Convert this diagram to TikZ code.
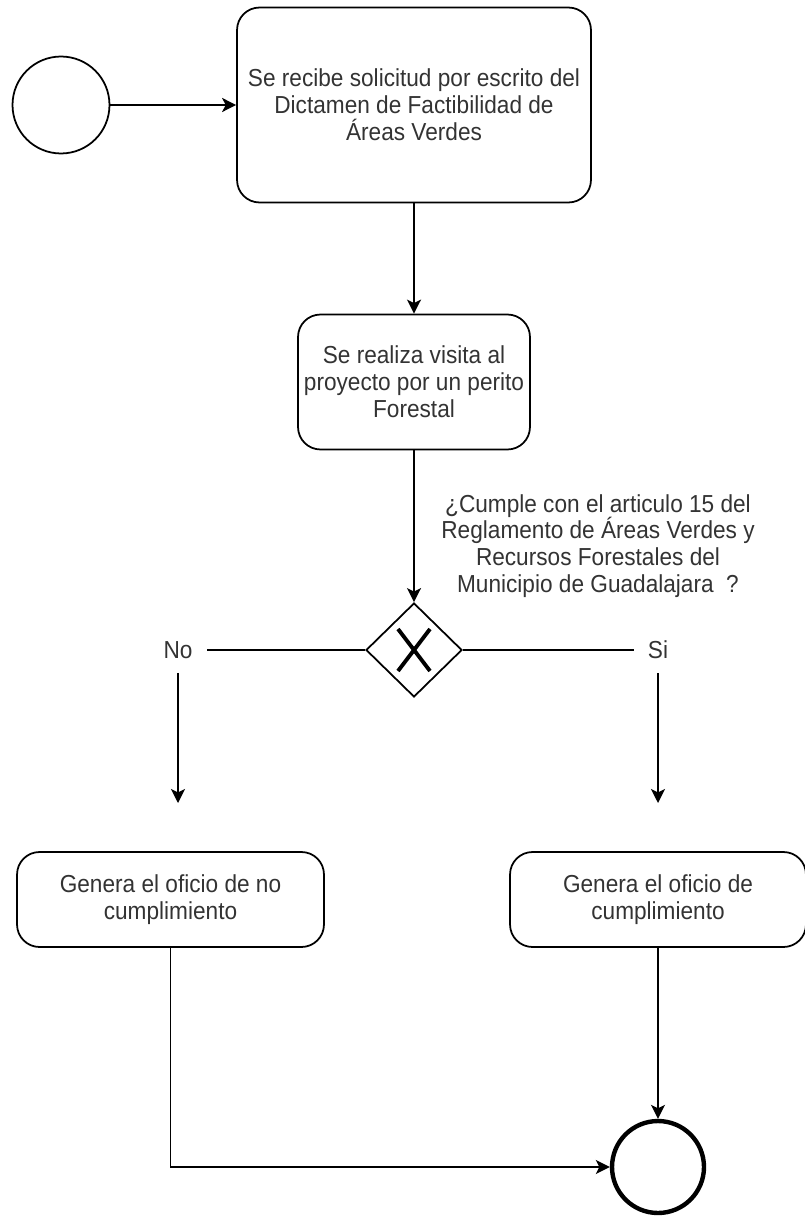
\documentclass[tikz,border=0pt]{standalone}
\usepackage{fontspec}
\setmainfont{Liberation Sans}[FakeStretch=0.92]
\usetikzlibrary{shapes.geometric,arrows.meta}

\begin{document}
\begin{tikzpicture}[x=0.02cm, y=-0.02cm,
		texto/.style = {font=\fontsize{14}{15.3}\selectfont, text=black!80},
		tarea/.style = {texto, draw, rounded corners=0.45cm, line width=1pt, align=center},
		evento/.style = {draw, circle, inner sep=0pt},
		flujo/.style = {-{Stealth[length=0.28cm, width=0.28cm, inset=0.07cm]}, line width=1pt},
		linea/.style = {line width=1pt},
		etiqueta/.style = {texto, inner sep=8pt}]
		\useasboundingbox (0,0) rectangle (804,1216);
		\node[evento, line width=1pt, minimum size=1.94cm] (inicio) at (61,105) {};
		\node[tarea, minimum width=7.08cm, minimum height=3.9cm] (recibe) at (414,105) {Se recibe solicitud por escrito del\\Dictamen de Factibilidad de\\Áreas Verdes};
		\node[tarea, minimum width=4.64cm, minimum height=2.7cm] (visita) at (414,382) {Se realiza visita al\\proyecto por un perito\\Forestal};
		\node[draw, diamond, line width=1pt, inner sep=0pt, minimum width=1.92cm, minimum height=1.88cm] (compuerta) at (414,650) {};
		\draw[line width=2.2pt] (398,629) -- (430,671) (398,671) -- (430,629);
		\node[texto, align=center] (pregunta) at (598,546) {¿Cumple con el articulo 15 del\\Reglamento de Áreas Verdes y\\Recursos Forestales del\\Municipio de Guadalajara\ \ ?};
		\node[etiqueta] (no) at (178,650) {No};
		\node[etiqueta] (si) at (658,650) {Si};
		\coordinate (nofin) at (178,803);
		\coordinate (sifin) at (658,803);
		\node[tarea, minimum width=6.14cm, minimum height=1.9cm] (nocumple) at (170.5,899.5) {Genera el oficio de no\\cumplimiento};
		\node[tarea, minimum width=5.92cm, minimum height=1.9cm] (cumple) at (658,899.5) {Genera el oficio de\\cumplimiento};
		\node[evento, line width=2.5pt, minimum size=1.84cm] (fin) at (658,1167) {};
		\draw[flujo] (inicio) -- (recibe);
		\draw[flujo] (recibe) -- (visita);
		\draw[flujo] (visita) -- (compuerta);
		\draw[linea] (compuerta) -- (no);
		\draw[linea] (compuerta) -- (si);
		\draw[flujo] (no) -- (nofin);
		\draw[flujo] (si) -- (sifin);
		\draw[flujo] (cumple) -- (fin);
		\draw[flujo] (nocumple.south) |- (fin);
	\end{tikzpicture}
\end{document}
